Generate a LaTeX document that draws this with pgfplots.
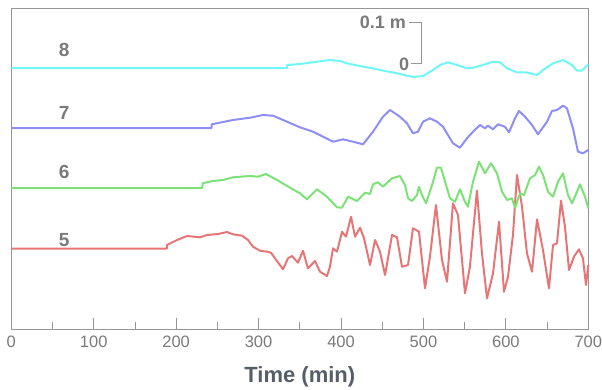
\documentclass[border=0pt]{standalone}
\usepackage{fontspec}
\setmainfont{Liberation Sans}
\usepackage{pgfplots}
\usepackage{pgfplotstable}
\pgfplotsset{compat=1.18}
\definecolor{cyanT}{RGB}{112,246,246}
\definecolor{blueT}{RGB}{142,142,246}
\definecolor{greenT}{RGB}{124,226,118}
\definecolor{redT}{RGB}{230,118,118}
\definecolor{lblgray}{RGB}{122,122,122}
\definecolor{titlegray}{RGB}{88,94,104}
\definecolor{framegray}{RGB}{150,150,150}

% time (min), trace height (axis units, baseline offsets included)
\pgfplotstableread{
t y
0 261
334.5 261
334.6 264
350.2 265
368.5 267
386.7 269
398.8 268
407.3 265.7
426.7 262.3
438.8 260.7
447.3 259
467.9 255.7
487.3 252
499.5 253
511.6 259
520.1 264
529.8 266.7
540.7 264
552.8 260.7
560.1 261.3
572.2 264
584.4 267.3
592.9 266.7
601.4 260.7
613.5 256.7
625.6 256.5
637.8 254
645.0 259
657.2 265.7
669.3 269
680.2 264
686.3 258.3
692.3 258.5
700 264.7
}\traceeight

\pgfplotstableread{
t y
0 201
243.0 201
243.1 204.7
269.0 209
289.6 211.3
305.4 214
317.5 213.3
334.5 207.3
350.2 201.7
366.0 197.3
378.2 192.3
390.3 187.3
402.4 189.7
414.6 187.3
426.7 184.7
438.8 197.3
450.9 212.3
459.4 219
471.5 212.3
480.0 205.7
487.3 195.7
493.4 197.3
499.5 207.3
507.9 210.7
516.4 207.3
523.7 202.3
535.8 185.7
544.3 181.3
552.8 190.7
560.1 197.3
568.6 204
574.7 200.7
578.3 203.3
584.4 199.7
590.5 204.7
598.9 202.3
603.8 196.7
611.1 210.7
615.9 218
623.2 212.3
631.7 204
639.0 194.7
649.9 207.3
655.9 218
662.0 219
669.3 223.3
674.1 220.7
681.4 200.7
687.5 177.3
693.5 175.7
700 179
}\traceseven

\pgfplotstableread{
t y
0 141
231.9 141
232.0 145.7
244.7 148
256.8 149
269.0 151.7
289.6 153
299.3 152.3
309.0 155
322.4 149
338.1 141.3
350.2 135.7
358.7 129.7
370.9 139.7
383.0 132.3
395.1 121.7
401.2 121.3
408.5 132.3
419.4 128
429.1 136.3
435.2 135
438.8 144.7
444.9 146.7
450.9 142.3
461.9 150.7
471.5 153
477.6 144
481.3 130.7
486.1 128
492.2 134
494.6 142.3
498.3 134
503.1 125.7
510.4 144
516.4 161.3
521.3 161.3
526.2 147.3
532.2 130.7
538.3 127.3
544.3 139.7
550.4 127.3
554.0 122.3
560.1 147.3
567.4 167.3
574.7 155.7
582.0 165.7
589.2 155.7
595.3 137.3
601.4 129
607.4 130.7
611.1 121.3
617.2 135.7
622.0 134
629.3 150.7
635.4 154
640.2 162.3
645.1 154
651.1 137.3
657.2 132.3
663.2 147.3
669.3 155.7
675.4 134
680.2 125.7
686.3 137.3
689.9 144.7
696.0 132.3
700 120.7
}\tracesix

\pgfplotstableread{
t y
0 80.5
188.8 80.5
188.9 84
201.0 89
213.2 93
228.9 91.7
237.4 94
250.8 95
261.7 97
268.9 94.7
279.9 93.3
287.2 89
293.2 82.3
301.7 78.3
310.2 77.3
315.0 76.3
319.9 70.7
329.6 59.7
335.7 70.7
340.5 73
347.8 66.3
353.9 78.3
359.9 60.7
368.4 68
374.5 57.3
383.0 53
386.6 62.3
390.3 80.7
395.1 77.3
401.2 97.3
406.1 92.3
412.1 112.3
417.0 92.3
423.1 101.3
427.9 90.7
435.2 64
441.3 89
447.3 77.3
453.4 54
461.9 94
467.9 91.7
474.0 62.3
481.3 64
487.3 100.7
494.6 97.3
501.9 40.7
507.9 72.3
515.2 124
522.5 69
528.6 47.3
535.8 125.7
541.9 114
550.4 35.7
556.4 62.3
564.9 138.3
571.0 75.7
577.1 30.7
584.4 55.7
591.7 107.3
597.7 37.3
602.6 52.3
608.6 94
613.5 154
619.6 122.3
625.6 75.7
631.7 57.3
637.8 109.7
645.0 79
652.3 40.7
657.2 84
662.0 85.7
666.9 128.3
671.7 102.3
676.6 59
682.6 72.3
688.7 79.7
693.5 70.7
697.2 44
700 64
}\tracefive

\begin{document}
\begin{tikzpicture}
\begin{axis}[
  at={(0pt,0pt)}, anchor=south west,
  scale only axis,
  width=577pt, height=321pt,
  xmin=0, xmax=700, ymin=0, ymax=321,
  axis line style={framegray, line width=0.8pt},
  xtick={0,100,...,700},
  minor xtick={50,150,...,650},
  ytick=\empty,
  tick align=inside,
  xtick pos=bottom,
  major tick length=11pt,
  minor tick length=7pt,
  tick style={framegray, line width=0.8pt},
  /pgf/number format/assume math mode=true,
  xticklabel style={font=\fontsize{16.5}{16.5}\selectfont, text=lblgray, yshift=-3pt},
  xlabel={\textbf{Time (min)}},
  xlabel style={font=\fontsize{22}{22}\selectfont, text=titlegray, yshift=-12pt},
  clip=false,
]
\addplot[redT, line width=2pt, line join=round] table[x=t, y=y] {\tracefive};
\addplot[greenT, line width=2pt, line join=round] table[x=t, y=y] {\tracesix};
\addplot[blueT, line width=2pt, line join=round] table[x=t, y=y] {\traceseven};
\addplot[cyanT, line width=2pt, line join=round] table[x=t, y=y] {\traceeight};

\node[font=\bfseries\fontsize{19}{19}\selectfont, text=lblgray] at (axis cs:64,279) {8};
\node[font=\bfseries\fontsize{19}{19}\selectfont, text=lblgray] at (axis cs:64,216) {7};
\node[font=\bfseries\fontsize{19}{19}\selectfont, text=lblgray] at (axis cs:64,157) {6};
\node[font=\bfseries\fontsize{19}{19}\selectfont, text=lblgray] at (axis cs:64,89) {5};

\draw[framegray, line width=0.9pt] (axis cs:482,307) -- (axis cs:497.5,307) -- (axis cs:497.5,266) -- (axis cs:485,266);
\node[anchor=east, inner sep=0pt, font=\bfseries\fontsize{18}{18}\selectfont, text=lblgray] at (axis cs:479,307) {0.1 m};
\node[anchor=east, inner sep=0pt, font=\bfseries\fontsize{18}{18}\selectfont, text=lblgray] at (axis cs:483,265) {0};
\end{axis}
\pgfresetboundingbox
\path[use as bounding box] (-11.3pt,-60pt) rectangle (590.7pt,329pt);
\end{tikzpicture}
\end{document}
